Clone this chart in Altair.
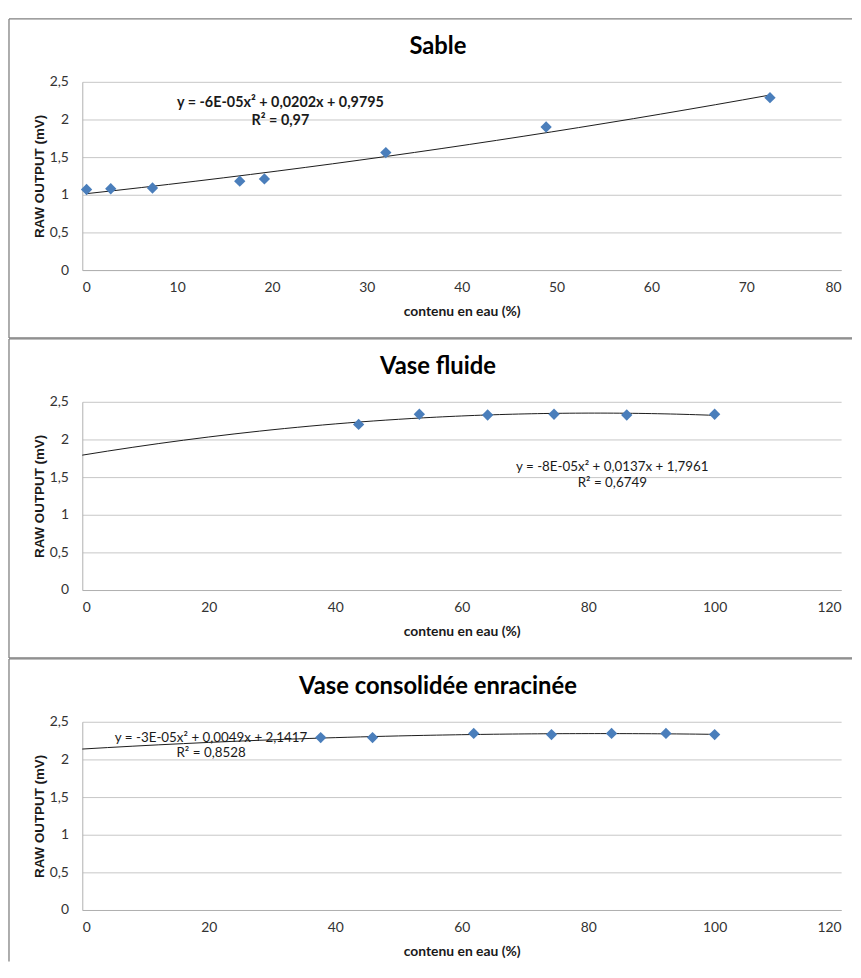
import altair as alt
import pandas as pd

# ---- data ----
sable_x = [0.45, 3.0, 7.4, 16.6, 19.2, 32.0, 48.9, 72.5]
sable_y = [1.07, 1.08, 1.09, 1.18, 1.21, 1.56, 1.90, 2.29]

fluide_x = [43.7, 53.3, 64.1, 74.6, 86.1, 100.0]
fluide_y = [2.20, 2.335, 2.325, 2.335, 2.325, 2.335]

consol_x = [37.7, 45.9, 61.9, 74.2, 83.7, 92.3, 100.0]
consol_y = [2.29, 2.29, 2.345, 2.33, 2.345, 2.345, 2.33]

titles = ["Sable", "Vase fluide", "Vase consolidée enracinée"]
equations = [
    ("y = -6E-05x² + 0,0202x + 0,9795", "R² = 0,97"),
    ("y = -8E-05x² + 0,0137x + 1,7961", "R² = 0,6749"),
    ("y = -3E-05x² + 0,0049x + 2,1417", "R² = 0,8528"),
]
x_ticks = [list(range(0, 90, 10)), list(range(0, 140, 20)), list(range(0, 140, 20))]
y_ticks = [0, 0.5, 1, 1.5, 2, 2.5]

W = 766
H = 190
FONT = "Lato"
BLUE = "#4a7ebb"
BORDER = "#808080"
one = pd.DataFrame({"a": [0]})


def panel(xs, ys, title, eq, xt, extent, eq_pos, eq_bold, last=False):
    df = pd.DataFrame({"x": xs, "y": ys})
    xenc = alt.X(
        "x:Q",
        scale=alt.Scale(domain=[xt[0], xt[-1]], nice=False),
        axis=alt.Axis(values=xt, title="contenu en eau (%)", grid=False),
    )
    yenc = alt.Y(
        "y:Q",
        scale=alt.Scale(domain=[0, 2.5], nice=False),
        axis=alt.Axis(
            values=y_ticks,
            title="RAW OUTPUT (mV)",
            labelExpr="replace(toString(datum.value), '.', ',')",
        ),
    )
    left, right, top = -74, W + 11, -63.5
    bottom = H + 52 if last else H + 68.5
    rule = dict(color=BORDER, strokeWidth=1.3)
    b_top = alt.Chart(one).mark_rule(**rule).encode(
        x=alt.value(left), x2=alt.value(right), y=alt.value(top))
    b_left = alt.Chart(one).mark_rule(**rule).encode(
        x=alt.value(left), y=alt.value(top), y2=alt.value(bottom))
    layers = [b_top, b_left]
    if not last:
        layers.append(alt.Chart(one).mark_rule(**rule).encode(
            x=alt.value(left), x2=alt.value(right), y=alt.value(bottom)))
    if extent is None:
        reg = alt.Chart(df).transform_regression("x", "y", method="poly", order=2)
    else:
        reg = alt.Chart(df).transform_regression("x", "y", method="poly", order=2, extent=extent)
    line = reg.mark_line(color="#1a1a1a", strokeWidth=1).encode(x=xenc, y=yenc)
    pts = alt.Chart(df).mark_point(
        shape="diamond", filled=True, size=130, color=BLUE, opacity=1
    ).encode(x=xenc, y=yenc)
    ttl = alt.Chart(one).mark_text(
        font=FONT, fontSize=24, fontWeight="bold", color="#000000",
        baseline="middle", align="center",
    ).encode(x=alt.value(359), y=alt.value(-35), text=alt.value(title))
    ex, ey = eq_pos
    fs = 14.5 if eq_bold else 13.5
    fw = "bold" if eq_bold else "normal"
    eq1 = alt.Chart(one).mark_text(
        font=FONT, fontSize=fs, fontWeight=fw,
        color="#1a1a1a", baseline="middle", align="center",
    ).encode(x=alt.value(ex), y=alt.value(ey), text=alt.value(eq[0]))
    eq2 = alt.Chart(one).mark_text(
        font=FONT, fontSize=fs, fontWeight=fw,
        color="#1a1a1a", baseline="middle", align="center",
    ).encode(x=alt.value(ex), y=alt.value(ey + (19 if eq_bold else 16)), text=alt.value(eq[1]))
    layers += [line, pts, ttl, eq1, eq2]
    return alt.layer(*layers).properties(width=W, height=H)


p1 = panel(sable_x, sable_y, titles[0], equations[0], x_ticks[0], None, (200, 21), True)
p2 = panel(fluide_x, fluide_y, titles[1], equations[1], x_ticks[1], [0, 100], (535, 66), False)
p3 = panel(consol_x, consol_y, titles[2], equations[2], x_ticks[2], [0, 100], (130, 16), False, last=True)

chart = alt.vconcat(p1, p2, p3, spacing=133, bounds="flush").properties(
    padding={"left": 0, "top": 5, "right": 0, "bottom": 0}
).configure_view(strokeWidth=0).configure_axis(
    labelFont=FONT, labelFontSize=14, labelColor="#333333",
    titleFont=FONT, titleFontSize=14, titleFontWeight="bold", titleColor="#1a1a1a",
    ticks=False, domainColor="#b0b0b0", domainWidth=1,
    gridColor="#c6c6c6", gridWidth=1,
).configure_axisY(
    labelPadding=14, titlePadding=3, titleFont="Liberation Sans", titleFontSize=13.5,
).configure_axisX(
    labelPadding=11, titlePadding=10,
)

chart.save("out.html", embed_options={"renderer": "svg", "actions": False})
